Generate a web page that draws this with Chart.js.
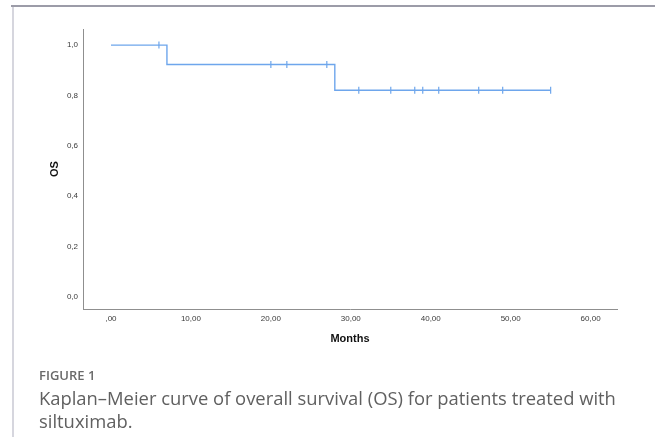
<!DOCTYPE html>
<html lang="en">
<head>
    <meta charset="UTF-8">
    <title>Kaplan-Meier OS</title>
    <script src="https://cdn.jsdelivr.net/npm/chart.js"></script>
    <style>
        body {
            margin: 0;
            padding: 0;
            background-color: #ffffff;
            width: 655px;
            height: 441px;
            overflow: hidden;
            position: relative;
        }
        .frame-top {
            position: absolute;
            left: 11px;
            top: 5px;
            width: 644px;
            height: 2px;
            background-color: #9c9ca8;
        }
        .frame-left {
            position: absolute;
            left: 12px;
            top: 7px;
            width: 2px;
            height: 430px;
            background-color: #d6d6de;
        }
        #chartBox {
            position: absolute;
            left: 0;
            top: 0;
            width: 655px;
            height: 441px;
        }
        .caption {
            position: absolute;
            left: 39px;
            top: 366px;
            font-family: 'Open Sans', sans-serif;
            color: #5e5e5e;
        }
        .caption .fig {
            font-size: 13px;
            font-weight: 600;
            color: #6a6a6a;
            line-height: 18px;
        }
        .caption .text {
            font-size: 18.4px;
            font-weight: 400;
            color: #606060;
            line-height: 23px;
            margin-top: 2px;
            white-space: nowrap;
        }
    </style>
</head>
<body>
    <div class="frame-top"></div>
    <div class="frame-left"></div>
    <div id="chartBox">
        <canvas id="kmChart" width="655" height="441"></canvas>
    </div>
    <div class="caption">
        <div class="fig">FIGURE 1</div>
        <div class="text">Kaplan–Meier curve of overall survival (OS) for patients treated with<br>siltuximab.</div>
    </div>

    <script>
        // step curve: time (months) and survival
        const curveTimes = [0, 7, 28, 55];
        const curveSurv = [1.0, 0.923, 0.821, 0.821];

        // censored observations
        const censorTimes = [6, 20, 22, 27, 31, 35, 38, 39, 41, 46, 49, 55];
        const censorSurv = [1.0, 0.923, 0.923, 0.923, 0.821, 0.821, 0.821, 0.821, 0.821, 0.821, 0.821, 0.821];

        // axis ticks
        const xTicks = [0, 10, 20, 30, 40, 50, 60];
        const xTickLabels = [',00', '10,00', '20,00', '30,00', '40,00', '50,00', '60,00'];
        const yTicks = [0, 0.2, 0.4, 0.6, 0.8, 1.0];
        const yTickLabels = ['0,0', '0,2', '0,4', '0,6', '0,8', '1,0'];

        const lineColor = '#6ea6ec';
        const axisColor = '#8f8f8f';
        const tickFont = { family: "'Liberation Sans', Arial, sans-serif", size: 8 };
        const titleFont = { family: "'Liberation Sans', Arial, sans-serif", size: 11, weight: 'bold' };

        const ctx = document.getElementById('kmChart').getContext('2d');

        const kmChart = new Chart(ctx, {
            type: 'scatter',
            data: {
                datasets: [
                    {
                        type: 'line',
                        label: 'OS',
                        data: curveTimes.map((t, i) => ({ x: t, y: curveSurv[i] })),
                        borderColor: lineColor,
                        borderWidth: 1.4,
                        stepped: 'before',
                        pointRadius: 0,
                        fill: false
                    },
                    {
                        label: 'Censored',
                        data: censorTimes.map((t, i) => ({ x: t, y: censorSurv[i] })),
                        pointStyle: 'line',
                        rotation: 90,
                        pointRadius: 3.5,
                        borderColor: lineColor,
                        backgroundColor: lineColor,
                        borderWidth: 1.2
                    }
                ]
            },
            options: {
                responsive: false,
                animation: false,
                events: [],
                layout: {
                    padding: { left: 40, right: 38, top: 29, bottom: 95 }
                },
                plugins: {
                    legend: { display: false },
                    tooltip: { enabled: false }
                },
                scales: {
                    x: {
                        type: 'linear',
                        min: -3.5,
                        max: 63.3,
                        afterBuildTicks: (scale) => {
                            scale.ticks = xTicks.map(v => ({ value: v }));
                        },
                        afterFit: (scale) => { scale.height = 37; },
                        grid: { display: false, drawTicks: false },
                        border: { display: true, color: axisColor, width: 1 },
                        ticks: {
                            font: tickFont,
                            color: '#3a3a3a',
                            padding: 5,
                            maxRotation: 0,
                            autoSkip: false,
                            callback: (value) => xTickLabels[xTicks.indexOf(value)]
                        },
                        title: {
                            display: true,
                            text: 'Months',
                            font: titleFont,
                            color: '#111',
                            padding: { top: 0, bottom: 0 }
                        }
                    },
                    y: {
                        type: 'linear',
                        min: -0.048,
                        max: 1.064,
                        afterBuildTicks: (scale) => {
                            scale.ticks = yTicks.map(v => ({ value: v }));
                        },
                        afterFit: (scale) => { scale.width = 43; },
                        grid: { display: false, drawTicks: false },
                        border: { display: true, color: axisColor, width: 1 },
                        ticks: {
                            font: tickFont,
                            color: '#3a3a3a',
                            padding: 5,
                            autoSkip: false,
                            callback: (value) => yTickLabels[yTicks.indexOf(value)]
                        },
                        title: {
                            display: true,
                            text: 'OS',
                            font: titleFont,
                            color: '#111',
                            padding: { top: 8, bottom: 0 }
                        }
                    }
                }
            }
        });
    </script>
</body>
</html>
